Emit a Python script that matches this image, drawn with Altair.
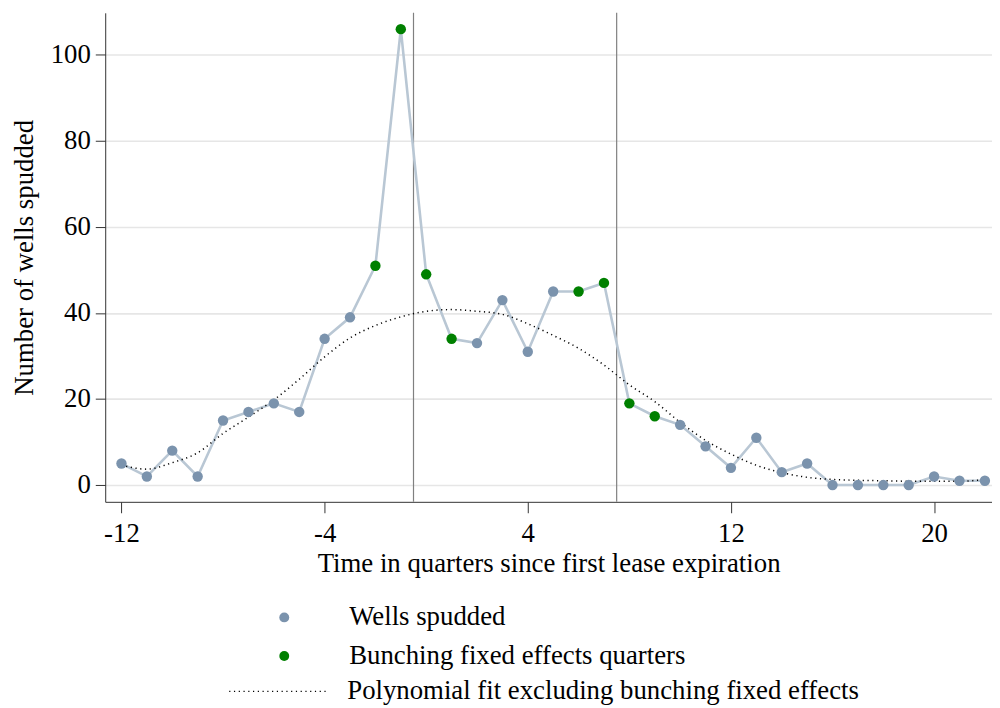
import altair as alt
import pandas as pd

quarters = list(range(-12, 23))
wells = [5, 2, 8, 2, 15, 17, 19, 17, 34, 39, 51, 106, 49, 34, 33, 43, 31, 45, 45, 47,
         19, 16, 14, 9, 4, 11, 3, 5, 0, 0, 0, 0, 2, 1, 1]
bunching = [-2, -1, 0, 1, 6, 7, 8, 9]
fit = [4.6, 3.7, 5.2, 7.5, 12.0, 15.8, 19.8, 24.6, 29.8, 34.2, 37.1, 39.1, 40.4, 40.8,
       40.4, 39.7, 37.5, 34.8, 31.8, 27.9, 23.3, 19.4, 14.6, 10.4, 7.2, 4.6, 2.9, 1.8,
       1.3, 1.1, 1.0, 0.9, 0.9, 0.9, 1.3]
cutoffs = [-0.5, 7.5]
x_ticks = [-12, -4, 4, 12, 20]
y_ticks = [0, 20, 40, 60, 80, 100]

LBL_WELLS = "Wells spudded"
LBL_BUNCH = "Bunching fixed effects quarters"
LBL_FIT = "Polynomial fit excluding bunching fixed effects"

df = pd.DataFrame({"q": quarters, "wells": wells,
                   "type": [LBL_BUNCH if q in bunching else LBL_WELLS for q in quarters]})
df_fit = pd.DataFrame({"q": quarters, "fit": fit, "lab": [LBL_FIT] * len(quarters)})
df_cut = pd.DataFrame({"c": cutoffs})

FONT = "Liberation Serif"
FS = 27
xscale = alt.Scale(domain=[-12.64, 22.28], nice=False, zero=False)
yscale = alt.Scale(domain=[-3.9, 109.8], nice=False, zero=False)

xaxis = alt.Axis(values=x_ticks, grid=False, title="Time in quarters since first lease expiration",
                 tickSize=11, labelPadding=8, titlePadding=4, labelExpr="datum.value + ''")
yaxis = alt.Axis(values=y_ticks, grid=True, title="Number of wells spudded",
                 tickSize=10, labelPadding=5, titlePadding=12)

base_x = alt.X("q:Q", scale=xscale, axis=xaxis)

rules = alt.Chart(df_cut).mark_rule(color="#808080", strokeWidth=1.2).encode(
    x=alt.X("c:Q", scale=xscale, axis=xaxis))

data_line = alt.Chart(df).mark_line(color="#b9c7d4", strokeWidth=2.6).encode(
    x=base_x, y=alt.Y("wells:Q", scale=yscale, axis=yaxis))

fit_line = alt.Chart(df_fit).mark_line(color="black", strokeWidth=1.5, interpolate="monotone").encode(
    x=base_x, y=alt.Y("fit:Q", scale=yscale, axis=yaxis),
    strokeDash=alt.StrokeDash("lab:N", scale=alt.Scale(domain=[LBL_FIT], range=[[1.2, 3.6]]),
                              legend=alt.Legend(title=None, orient="none", legendX=124, legendY=633,
                                                symbolType="stroke", symbolSize=10000,
                                                symbolStrokeColor="black", symbolStrokeWidth=1.2,
                                                labelOffset=18)))

points = alt.Chart(df).mark_point(filled=True, size=110, opacity=1).encode(
    x=base_x, y=alt.Y("wells:Q", scale=yscale, axis=yaxis),
    color=alt.Color("type:N", scale=alt.Scale(domain=[LBL_WELLS, LBL_BUNCH],
                                               range=["#7b93ad", "#008000"]),
                    legend=alt.Legend(title=None, orient="none", legendX=167, legendY=596,
                                      symbolType="circle", symbolSize=100, symbolStrokeWidth=0,
                                      labelOffset=52, rowPadding=11)))

chart = alt.layer(rules, data_line, fit_line, points).properties(
    width=894, height=493,
    background="white",
    autosize=alt.AutoSizeParams(type="none"),
    padding={"left": 98, "top": 2, "right": 0, "bottom": 205},
).configure_view(stroke=None).configure_axis(
    labelFont=FONT, titleFont=FONT, labelFontSize=FS, titleFontSize=FS,
    titleFontWeight="normal", labelColor="black", titleColor="black",
    domainColor="#333333", tickColor="#333333", gridColor="#e6e6e6", gridWidth=1.6,
).configure_legend(
    labelFont=FONT, labelFontSize=FS, labelColor="black", padding=0, labelLimit=0,
)

chart.save("out.html", embed_options={"renderer": "svg", "actions": False})
